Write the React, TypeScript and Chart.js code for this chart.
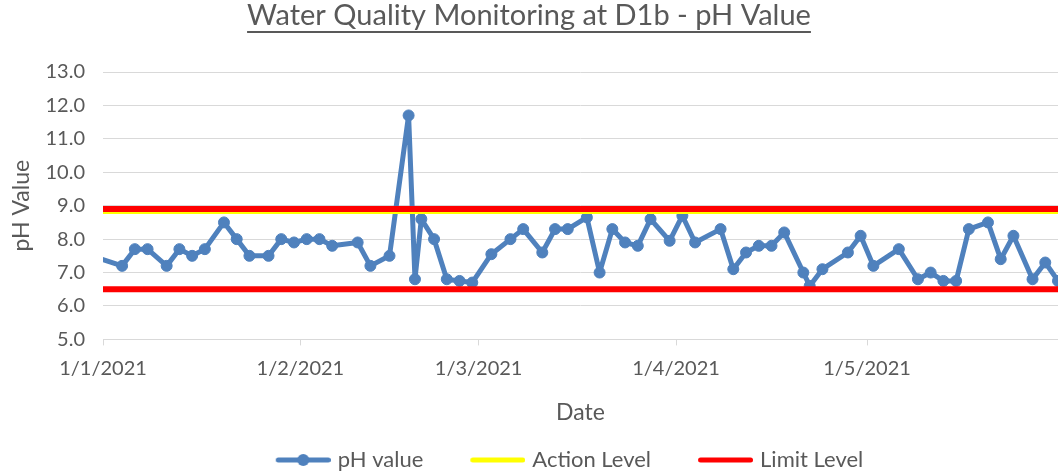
import { useEffect, useRef } from "react";
import { Chart, registerables } from "chart.js";

Chart.register(...registerables);

// ---------------- data ----------------
const chartTitle = "Water Quality Monitoring at D1b - pH Value";
const xAxisTitle = "Date";
const yAxisTitle = "pH Value";
const seriesNames = ["pH value", "Action Level", "Limit Level"];

const sampleDates: string[] = [
  "2020-12-31", "2021-01-04", "2021-01-06", "2021-01-08", "2021-01-11", "2021-01-13",
  "2021-01-15", "2021-01-17", "2021-01-20", "2021-01-22", "2021-01-24", "2021-01-27",
  "2021-01-29", "2021-01-31", "2021-02-02", "2021-02-04", "2021-02-06", "2021-02-10",
  "2021-02-12", "2021-02-15", "2021-02-18", "2021-02-19", "2021-02-20", "2021-02-22",
  "2021-02-24", "2021-02-26", "2021-02-28", "2021-03-03", "2021-03-06", "2021-03-08",
  "2021-03-11", "2021-03-13", "2021-03-15", "2021-03-18", "2021-03-20", "2021-03-22",
  "2021-03-24", "2021-03-26", "2021-03-28", "2021-03-31", "2021-04-02", "2021-04-04",
  "2021-04-08", "2021-04-10", "2021-04-12", "2021-04-14", "2021-04-16", "2021-04-18",
  "2021-04-21", "2021-04-22", "2021-04-24", "2021-04-28", "2021-04-30", "2021-05-02",
  "2021-05-06", "2021-05-09", "2021-05-11", "2021-05-13", "2021-05-15", "2021-05-17",
  "2021-05-20", "2021-05-22", "2021-05-24", "2021-05-27", "2021-05-29", "2021-05-31",
];

const phValues: number[] = [
  7.45, 7.2, 7.7, 7.7, 7.2, 7.7,
  7.5, 7.7, 8.5, 8.0, 7.5, 7.5,
  8.0, 7.9, 8.0, 8.0, 7.8, 7.9,
  7.2, 7.5, 11.7, 6.8, 8.6, 8.0,
  6.8, 6.75, 6.7, 7.55, 8.0, 8.3,
  7.6, 8.3, 8.3, 8.65, 7.0, 8.3,
  7.9, 7.8, 8.6, 7.95, 8.7, 7.9,
  8.3, 7.1, 7.6, 7.8, 7.8, 8.2,
  7.0, 6.6, 7.1, 7.6, 8.1, 7.2,
  7.7, 6.8, 7.0, 6.75, 6.75, 8.3,
  8.5, 7.4, 8.1, 6.8, 7.3, 6.75,
];

const actionLevels: number[] = [8.84];
const limitLevels: number[] = [8.9, 6.5];

const axisStartDate = "2021-01-01";
const axisEndDate = "2021-05-31";
const tickDates: string[] = ["2021-01-01", "2021-02-01", "2021-03-01", "2021-04-01", "2021-05-01"];
const tickLabels: string[] = ["1/1/2021", "1/2/2021", "1/3/2021", "1/4/2021", "1/5/2021"];
const yMin = 5;
const yMax = 13;
const yStep = 1;

// ---------------- helpers ----------------
const FONT = "Lato";
const TEXT = "#595959";
const GRID = "#d9d9d9";
const BLUE = "#4f81bd";
const YELLOW = "#ffff00";
const RED = "#ff0000";
const DAY_MS = 86400000;

const dayOf = (s: string) =>
  (Date.parse(s + "T00:00:00Z") - Date.parse(axisStartDate + "T00:00:00Z")) / DAY_MS;

const xMin = dayOf(axisStartDate);
const xMax = dayOf(axisEndDate);

function levelPoints(levels: number[]) {
  const pts: { x: number; y: number | null }[] = [];
  levels.forEach((v, i) => {
    if (i > 0) pts.push({ x: xMax, y: null });
    pts.push({ x: xMin, y: v }, { x: xMax, y: v });
  });
  return pts;
}

function makeIcon(color: string, marker: boolean) {
  const c = document.createElement("canvas");
  c.width = 100;
  c.height = 14;
  const ctx = c.getContext("2d")!;
  ctx.strokeStyle = color;
  ctx.lineWidth = 5;
  ctx.lineCap = "round";
  ctx.beginPath();
  ctx.moveTo(47.5, 7);
  ctx.lineTo(97.5, 7);
  ctx.stroke();
  if (marker) {
    ctx.fillStyle = color;
    ctx.beginPath();
    ctx.arc(72.5, 7, 6, 0, Math.PI * 2);
    ctx.fill();
  }
  return c;
}

const titleUnderline = {
  id: "titleUnderline",
  afterDraw(chart: any) {
    const tb = chart.titleBlock;
    if (!tb) return;
    const ctx = chart.ctx;
    ctx.save();
    ctx.font = `normal 29px ${FONT}`;
    const w = ctx.measureText(chartTitle).width;
    const cx = (tb.left + tb.right) / 2;
    ctx.fillStyle = TEXT;
    ctx.fillRect(cx - w / 2, tb.top + 31, w, 2);
    ctx.restore();
  },
};

const legendShift = {
  id: "legendShift",
  afterLayout(chart: any) {
    const l = chart.legend;
    if (l) {
      l.left += 20;
      l.right += 20;
    }
  },
};

export default function App() {
  const ref = useRef<HTMLCanvasElement | null>(null);

  useEffect(() => {
    if (!ref.current) return;
    const icons = [makeIcon(BLUE, true), makeIcon(YELLOW, false), makeIcon(RED, false)];
    const colors = [BLUE, YELLOW, RED];

    const chart = new Chart(ref.current, {
      type: "line",
      data: {
        datasets: [
          {
            label: seriesNames[0],
            data: sampleDates.map((d, i) => ({ x: dayOf(d), y: phValues[i] })),
            borderColor: BLUE,
            backgroundColor: BLUE,
            borderWidth: 5,
            pointRadius: 5.5,
            pointBorderWidth: 1,
            pointBackgroundColor: BLUE,
            pointBorderColor: BLUE,
            borderJoinStyle: "round",
            borderCapStyle: "round",
            tension: 0,
            clip: 0,
            order: 3,
          },
          {
            label: seriesNames[1],
            data: levelPoints(actionLevels),
            borderColor: YELLOW,
            backgroundColor: YELLOW,
            borderWidth: 6,
            pointRadius: 0,
            spanGaps: false,
            order: 2,
          },
          {
            label: seriesNames[2],
            data: levelPoints(limitLevels),
            borderColor: RED,
            backgroundColor: RED,
            borderWidth: 6,
            pointRadius: 0,
            spanGaps: false,
            order: 1,
          },
        ] as any,
      },
      options: {
        animation: false,
        responsive: false,
        devicePixelRatio: 1,
        layout: { autoPadding: false, padding: { left: 0, right: 0, top: 0, bottom: -5 } },
        plugins: {
          title: {
            display: true,
            text: chartTitle,
            color: TEXT,
            font: { family: FONT, size: 29, weight: "normal", lineHeight: 1.0 },
            padding: { top: 1, bottom: 42 },
          },
          legend: {
            position: "bottom",
            labels: {
              usePointStyle: true,
              pointStyleWidth: 92,
              padding: 6,
              color: TEXT,
              font: { family: FONT, size: 22 },
              generateLabels: () =>
                seriesNames.map((name, i) => ({
                  text: name,
                  datasetIndex: i,
                  pointStyle: icons[i],
                  fillStyle: colors[i],
                  strokeStyle: colors[i],
                  lineWidth: 0,
                  hidden: false,
                  fontColor: TEXT,
                })) as any,
            },
          },
          tooltip: { enabled: false },
        },
        scales: {
          x: {
            type: "linear",
            min: xMin,
            max: xMax,
            afterBuildTicks: (axis: any) => {
              axis.ticks = tickDates.map((d) => ({ value: dayOf(d) }));
            },
            afterFit: (scale: any) => {
              scale.paddingRight = 0;
            },
            ticks: {
              autoSkip: false,
              maxRotation: 0,
              padding: 11,
              color: TEXT,
              font: { family: FONT, size: 20 },
              callback: (_v: any, i: number) => tickLabels[i],
            },
            grid: { drawOnChartArea: false, drawTicks: true, tickLength: 6, color: GRID },
            border: { display: true, color: GRID, width: 1 },
            title: {
              display: true,
              text: xAxisTitle,
              color: TEXT,
              font: { family: FONT, size: 23 },
              padding: { top: 7, bottom: 17 },
            },
          },
          y: {
            type: "linear",
            min: yMin,
            max: yMax,
            afterFit: (scale: any) => {
              scale.width = 103;
            },
            ticks: {
              stepSize: yStep,
              padding: 18,
              color: TEXT,
              font: { family: FONT, size: 20 },
              callback: (v: any) => Number(v).toFixed(1),
            },
            grid: { color: GRID, drawTicks: false, lineWidth: 1 },
            border: { display: false },
            title: {
              display: true,
              text: yAxisTitle,
              color: TEXT,
              font: { family: FONT, size: 23 },
              padding: { top: 8, bottom: 9 },
            },
          },
        },
      } as any,
      plugins: [titleUnderline, legendShift],
    });

    return () => chart.destroy();
  }, []);

  return (
    <div style={{ position: "fixed", left: 0, top: 0, width: 1058, height: 476, background: "#fff" }}>
      <canvas ref={ref} width={1058} height={476} style={{ display: "block" }} />
    </div>
  );
}
